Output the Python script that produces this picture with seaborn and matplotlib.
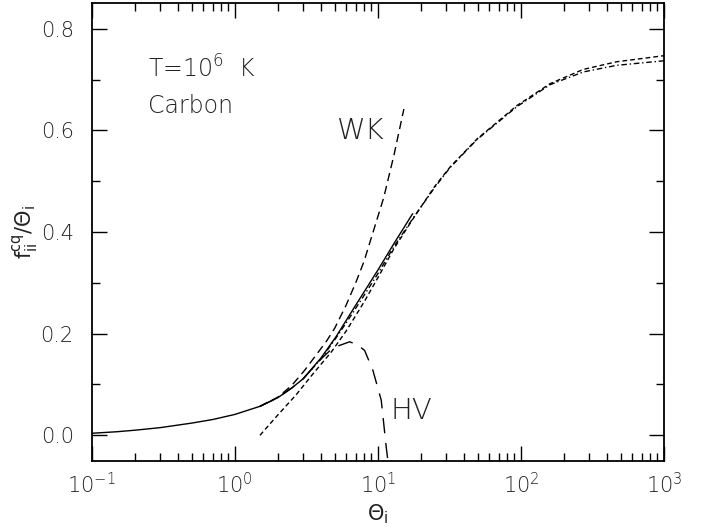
import numpy as np
import pandas as pd
import matplotlib
matplotlib.use("Agg")
import matplotlib.pyplot as plt
import seaborn as sns
from matplotlib.ticker import FixedLocator, FixedFormatter, NullFormatter, LogLocator

# ---- data ----
solid_x = [0.1, 0.15, 0.2, 0.3, 0.5, 0.7, 1.0, 1.5, 2.0, 2.5, 3.0, 4.0, 5.13, 7.0, 10.0, 13.0, 17.5]
solid_y = [0.004, 0.007, 0.010, 0.015, 0.024, 0.031, 0.041, 0.057, 0.074, 0.093, 0.111, 0.152, 0.195, 0.256, 0.325, 0.378, 0.436]

wk_x = [1.5, 2.0, 2.5, 3.08, 4.37, 5.0, 6.0, 7.07, 8.0, 10.3, 11.0, 13.0, 15.2]
wk_y = [0.057, 0.075, 0.098, 0.128, 0.185, 0.211, 0.256, 0.303, 0.342, 0.442, 0.468, 0.553, 0.642]

hv_x = [1.5, 2.0, 2.5, 3.0, 4.0, 4.6, 5.3, 6.35, 7.2, 8.08, 9.23, 10.56, 11.44, 11.75]
hv_y = [0.057, 0.074, 0.093, 0.111, 0.150, 0.166, 0.176, 0.184, 0.178, 0.167, 0.128, 0.069, -0.023, -0.05]

asym_x = [1.5, 2.0, 2.69, 3.5, 4.73, 6.0, 8.0, 10.0, 13.0, 17.8, 25.0, 32.0, 49.3, 94.0, 160.0, 273.0, 466.0, 1000.0]
asym_y = [0.0, 0.04, 0.08, 0.12, 0.164, 0.205, 0.262, 0.31, 0.368, 0.428, 0.49, 0.528, 0.583, 0.649, 0.692, 0.720, 0.735, 0.747]

fit_x = [3.0, 4.0, 5.0, 6.0, 8.0, 10.0, 13.0, 17.8, 25.0, 32.0, 49.3, 94.0, 160.0, 273.0, 466.0, 1000.0]
fit_y = [0.111, 0.150, 0.188, 0.221, 0.275, 0.318, 0.372, 0.429, 0.488, 0.527, 0.582, 0.647, 0.690, 0.715, 0.728, 0.737]

xtick_vals = [0.1, 1, 10, 100, 1000]
xtick_labels = [r'$10^{-1}$', r'$10^{0}$', r'$10^{1}$', r'$10^{2}$', r'$10^{3}$']
ytick_vals = [0.0, 0.2, 0.4, 0.6, 0.8]
ytick_labels = ['0.0', '0.2', '0.4', '0.6', '0.8']

sns.set_theme(style="ticks")
plt.rcParams['font.family'] = ['DejaVu Sans']
plt.rcParams['font.weight'] = 'light'
plt.rcParams['mathtext.default'] = 'regular'
plt.rcParams['text.color'] = '#222222'
plt.rcParams['axes.labelcolor'] = '#222222'

fig = plt.figure(figsize=(7.02, 5.29), dpi=100)
ax = fig.add_axes([0.1306, 0.1291, 0.9459 - 0.1306, 0.9937 - 0.1291])

def draw(x, y, ls):
    df = pd.DataFrame({'x': x, 'y': y})
    sns.lineplot(data=df, x='x', y='y', ax=ax, color='black', lw=1.0,
                 sort=False, estimator=None, linestyle=ls)

draw(solid_x, solid_y, '-')
draw(wk_x, wk_y, (0, (6, 3.6)))
draw(hv_x, hv_y, (0, (11, 7)))
draw(asym_x, asym_y, (0, (3.4, 2.2)))
draw(fit_x, fit_y, (0, (4, 2, 1, 2)))

ax.set_xscale('log')
ax.set_xlim(0.1, 1000)
ax.set_ylim(-0.05, 0.85)

ax.xaxis.set_major_locator(FixedLocator(xtick_vals))
ax.xaxis.set_major_formatter(FixedFormatter(xtick_labels))
ax.xaxis.set_minor_locator(LogLocator(base=10, subs=np.arange(2, 10), numticks=20))
ax.xaxis.set_minor_formatter(NullFormatter())
ax.yaxis.set_major_locator(FixedLocator(ytick_vals))
ax.yaxis.set_major_formatter(FixedFormatter(ytick_labels))
ax.yaxis.set_minor_locator(FixedLocator([-0.1, 0.1, 0.3, 0.5, 0.7]))

ax.tick_params(which='both', direction='in', top=True, right=True, width=1.0,
               color='black', labelcolor='#222222')
ax.tick_params(which='major', length=11)
ax.tick_params(which='minor', length=5.5)
ax.tick_params(axis='x', which='major', labelsize=15, pad=8)
ax.tick_params(axis='y', which='major', labelsize=15, pad=13)
for s in ax.spines.values():
    s.set_linewidth(1.3)
    s.set_color('black')

ax.set_xlabel(r'$\Theta_i$', fontsize=15, labelpad=4)
ax.set_ylabel(r'$f_{ii}^{cq}/\Theta_i$', fontsize=15, labelpad=0)

ax.text(0.247, 0.704, r'T=10$^6$  K', fontsize=17)
ax.text(0.247, 0.635, 'Carbon', fontsize=17)
ax.text(5.2, 0.584, 'WK', fontsize=21)
ax.text(12.3, 0.033, 'HV', fontsize=21)

fig.savefig('out.png', dpi=100)
